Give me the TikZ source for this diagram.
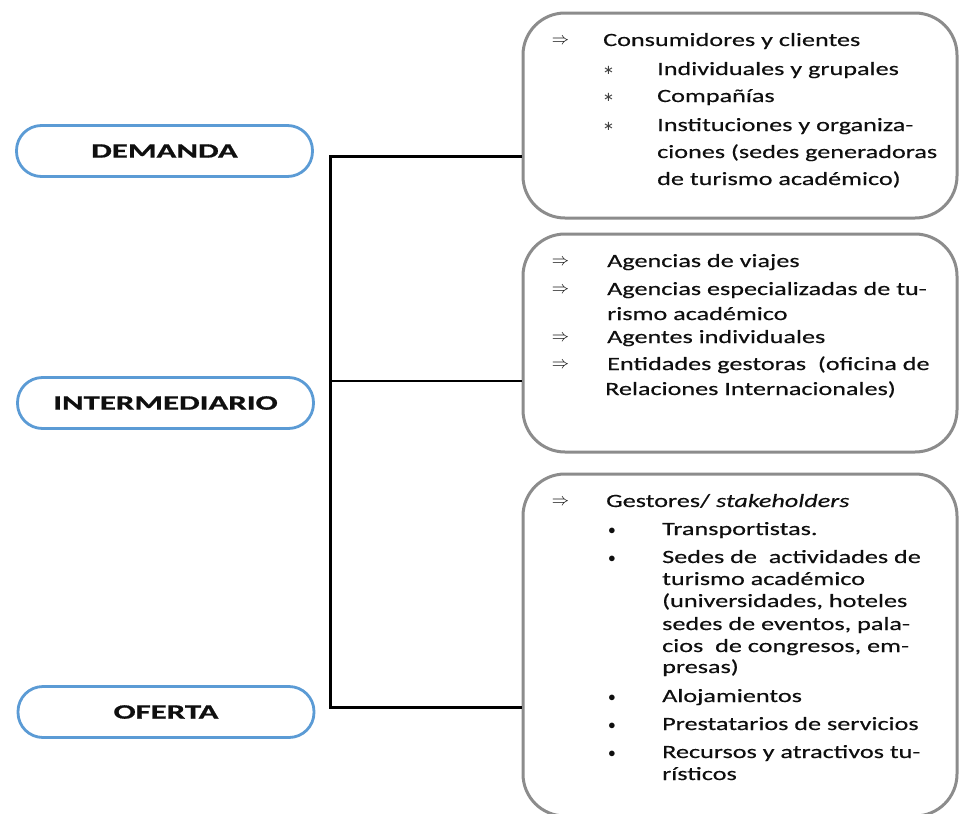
\documentclass[tikz,border=0pt]{standalone}
\usepackage{fontspec}
\newfontfamily\bodyf{Carlito}[FakeStretch=1.4,FakeBold=0.35]
\newfontfamily\labf{Carlito}[FakeStretch=1.6,FakeBold=0.9]
\newfontfamily\symf{DejaVu Sans}
\definecolor{pillblue}{RGB}{91,155,213}
\definecolor{panelgray}{RGB}{140,140,140}
\definecolor{ink}{RGB}{15,15,15}
\begin{document}
\begin{tikzpicture}[x=1pt,y=-1pt,
  pill/.style={draw=pillblue,line width=2.8pt,rounded corners=25pt,minimum width=296pt,minimum height=51pt,inner sep=0pt,font=\labf\bfseries\fontsize{20.5}{22}\selectfont,text=ink},
  panel/.style={draw=panelgray,line width=3pt,rounded corners=42pt,minimum width=434pt,inner sep=0pt},
  txt/.style={anchor=base west,inner sep=0pt,font=\bodyf\fontsize{18.7}{20}\selectfont,text=ink},
  arr/.style={anchor=center,inner sep=0pt,font=\fontsize{19}{19}\selectfont,text=ink},
  ast/.style={anchor=center,inner sep=0pt,font=\symf\fontsize{13}{13}\selectfont,text=ink!80},
  bul/.style={anchor=center,inner sep=0pt,font=\fontsize{15}{15}\selectfont,text=ink},
  link/.style={draw=black,line width=3pt}]
\useasboundingbox (0,0) rectangle (959,814);
\fill[white] (0,0) rectangle (959,814);

% left pills
\node[pill] (dem) at (164.5,151) {DEMANDA};
\node[pill] (int) at (165.5,403) {INTERMEDIARIO};
\node[pill] (ofe) at (166,712) {OFERTA};

% right panels
\node[panel,minimum height=205pt] (b1) at (740,115.5) {};
\node[panel,minimum height=218pt] (b2) at (740,343) {};
\node[panel,minimum height=342pt] (b3) at (740,645) {};

% connectors
\coordinate (t1) at (330,156);
\coordinate (t2) at (330,381);
\coordinate (t3) at (330,707);
\draw[link] (t1 -| b1.west) -- (t1) -- (t3) -- (t3 -| b3.west);
\draw[link,line width=2.5pt] (t2) -- (t2 -| b2.west);

% panel 1
\node[arr] (a11) at (560.5,41) {$\Rightarrow$};
\node[txt] (l11) at (603,46) {Consumidores y clientes};
\node[ast] (s12) at (608.5,70) {∗};
\node[txt] (l12) at (657,75) {Individuales y grupales};
\node[ast] (s13) at (608.5,97) {∗};
\node[txt] (l13) at (657,102) {Compañías};
\node[ast] (s14) at (608.5,126) {∗};
\node[txt] (l14) at (657,131) {Instituciones y organiza-};
\node[txt] (l15) at (657,158) {ciones (sedes generadoras};
\node[txt] (l16) at (657,185) {de turismo académico)};

% panel 2
\node[arr] (a21) at (560.5,262) {$\Rightarrow$};
\node[txt] (l21) at (607,267) {Agencias de viajes};
\node[arr] (a22) at (560.5,290) {$\Rightarrow$};
\node[txt] (l22) at (607,295) {Agencias especializadas de tu-};
\node[txt] (l23) at (607,320) {rismo académico};
\node[arr] (a24) at (560.5,338) {$\Rightarrow$};
\node[txt] (l24) at (607,343) {Agentes individuales};
\node[arr] (a25) at (560.5,365) {$\Rightarrow$};
\node[txt] (l25) at (607,370) {Entidades gestoras\ \ (oficina de};
\node[txt] (l26) at (605,395) {Relaciones Internacionales)};

% panel 3
\node[arr] (a31) at (560.5,502) {$\Rightarrow$};
\node[txt] (l31) at (606,507) {Gestores/ \textit{stakeholders}};
\node[bul] (s32) at (612,531) {$\bullet$};
\node[txt] (l32) at (662,535) {Transportistas.};
\node[bul] (s33) at (612,559) {$\bullet$};
\node[txt] (l33) at (662,563) {Sedes de\ \ actividades de};
\node[txt] (l34) at (662,585) {turismo académico};
\node[txt] (l35) at (662,607) {(universidades, hoteles};
\node[txt] (l36) at (662,630) {sedes de eventos, pala-};
\node[txt] (l37) at (662,652) {cios\ \ de congresos, em-};
\node[txt] (l38) at (662,673) {presas)};
\node[bul] (s39) at (612,698) {$\bullet$};
\node[txt] (l39) at (662,702) {Alojamientos};
\node[bul] (s310) at (612,726) {$\bullet$};
\node[txt] (l310) at (662,730) {Prestatarios de servicios};
\node[bul] (s311) at (612,754) {$\bullet$};
\node[txt] (l311) at (662,758) {Recursos y atractivos tu-};
\node[txt] (l312) at (662,780) {rísticos};
\end{tikzpicture}
\end{document}
